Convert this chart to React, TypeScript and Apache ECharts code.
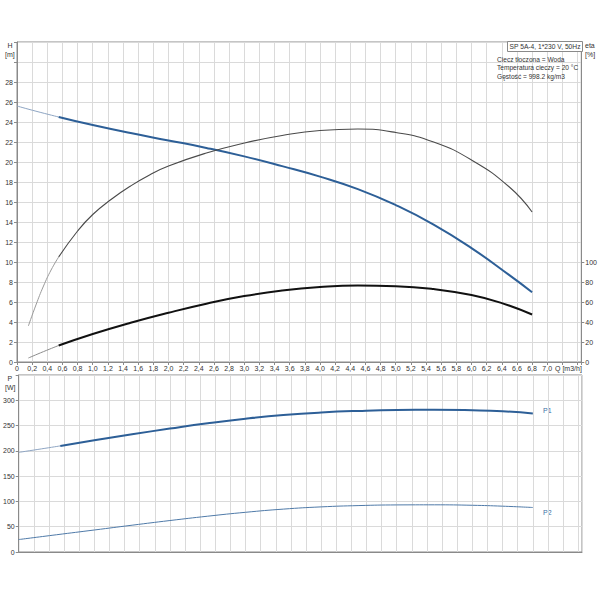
import React, { useEffect, useRef } from "react";
import * as echarts from "echarts";

// Head curve H [m]
const qHThin = [0, 0.25, 0.55];
const hThin = [25.6, 25.08, 24.5];
const qH = [0.55, 1.0, 1.5, 2.0, 2.5, 3.0, 3.5, 4.0, 4.5, 5.0, 5.5, 6.0, 6.5, 6.8];
const hMain = [24.5, 23.69, 22.89, 22.16, 21.41, 20.56, 19.59, 18.54, 17.29, 15.69, 13.74, 11.39, 8.69, 6.98];

// Upper thin curve (on H scale)
const qAThin = [0.15, 0.25, 0.35, 0.45, 0.55];
const aThin = [3.6, 5.7, 7.6, 9.2, 10.5];
const qA = [0.55, 0.8, 1.0, 1.25, 1.5, 1.75, 2.0, 2.5, 3.0, 3.5, 4.0, 4.5, 5.0, 5.5, 6.0, 6.5, 6.8];
const aMain = [10.5, 13.1, 14.75, 16.3, 17.6, 18.7, 19.6, 20.9, 21.9, 22.65, 23.15, 23.3, 22.95, 22.0, 20.2, 17.5, 15.0];

// Efficiency eta [%]
const qEtaThin = [0.15, 0.35, 0.55];
const etaThin = [4.0, 10.4, 16.5];
const qEta = [0.55, 1.0, 1.5, 2.0, 2.5, 3.0, 3.5, 4.0, 4.5, 5.0, 5.5, 6.0, 6.4, 6.8];
const etaMain = [16.5, 28.0, 39.25, 49.25, 58.25, 65.9, 71.4, 74.9, 76.4, 75.8, 72.9, 66.9, 58.9, 47.5];

// Power P1 / P2 [W]
const qP1Thin = [0, 0.3, 0.55];
const p1Thin = [197, 203.9, 209.8];
const qP1 = [0.55, 1.0, 1.5, 2.0, 2.5, 3.0, 3.5, 4.0, 4.5, 5.0, 5.5, 6.0, 6.4, 6.8];
const p1Main = [209.8, 221, 232.8, 244, 254.5, 263.5, 270.7, 275.8, 279, 280.8, 281.2, 280.2, 278.2, 274];
const qP2 = [0, 0.5, 1.0, 1.5, 2.0, 2.5, 3.0, 3.5, 4.0, 4.5, 5.0, 5.5, 6.0, 6.4, 6.8];
const p2 = [24.6, 34.1, 43.5, 53, 62.2, 70.8, 78.5, 84.8, 89.2, 91.8, 93.1, 93.3, 92.4, 90.6, 88];

const infoLines = ["Ciecz tłoczona = Woda", "Temperatura cieczy = 20 °C", "Gęstość = 998.2 kg/m3"];
const titleText = "SP 5A-4, 1*230 V, 50Hz";

const zip = (xs: number[], ys: number[]) => xs.map((x, i) => [x, ys[i]]);
const FONT = "Liberation Sans, Arial, sans-serif";
const GRID = "#dadada";
const AXIS = "#8a8a8a";
const LBL = "#333";

const fmtQ = (v: number) => (v > 7.01 ? "" : v === 0 ? "0" : v.toFixed(1).replace(".", ","));

export default function App() {
  const ref = useRef<HTMLDivElement>(null);
  useEffect(() => {
    if (!ref.current) return;
    const chart = echarts.init(ref.current, undefined, { renderer: "svg" });
    const line = (name: string, data: number[][], color: string, width: number, xi: number, yi: number) => ({
      name,
      type: "line",
      xAxisIndex: xi,
      yAxisIndex: yi,
      data,
      smooth: 0.5,
      symbol: "none",
      silent: true,
      lineStyle: { color, width },
      z: 5,
    });
    const xCommon = {
      type: "value",
      min: 0,
      max: 7.45,
      interval: 0.2,
      splitLine: { show: true, lineStyle: { color: GRID, width: 1 } },
      axisLine: { show: true, lineStyle: { color: AXIS } },
    };
    const txt = (text: string, x: number, y: number, extra: any = {}) => ({
      type: "text",
      x,
      y,
      silent: true,
      style: { text, fontSize: 7, fontFamily: FONT, fill: LBL, textVerticalAlign: "middle", ...extra },
    });
    chart.setOption({
      animation: false,
      backgroundColor: "#fff",
      textStyle: { fontFamily: FONT },
      grid: [
        { left: 17, right: 18, top: 42, height: 320, show: true, borderColor: AXIS, borderWidth: 1, backgroundColor: "transparent" },
        { left: 17, right: 18, top: 375, height: 177, show: true, borderColor: AXIS, borderWidth: 1, backgroundColor: "transparent" },
      ],
      xAxis: [
        {
          ...xCommon,
          gridIndex: 0,
          axisTick: { show: true, length: 3, lineStyle: { color: AXIS } },
          axisLabel: { fontSize: 7, color: LBL, margin: 3, formatter: fmtQ, showMaxLabel: true, showMinLabel: true },
        },
        {
          ...xCommon,
          gridIndex: 1,
          axisTick: { show: false },
          axisLabel: { show: false },
        },
      ],
      yAxis: [
        {
          type: "value",
          gridIndex: 0,
          position: "left",
          min: 0,
          max: 32,
          interval: 2,
          axisLine: { show: true, lineStyle: { color: AXIS } },
          axisTick: { show: true, length: 3, lineStyle: { color: AXIS } },
          axisLabel: { fontSize: 7, color: LBL, margin: 4, formatter: (v: number) => (v > 28.5 ? "" : String(v)) },
          splitLine: { show: true, lineStyle: { color: GRID } },
        },
        {
          type: "value",
          gridIndex: 0,
          position: "right",
          min: 0,
          max: 320,
          interval: 20,
          axisLine: { show: true, lineStyle: { color: AXIS } },
          axisTick: { show: true, length: 3, lineStyle: { color: AXIS }, customValues: [0, 20, 40, 60, 80, 100] },
          axisLabel: { fontSize: 7, color: LBL, margin: 4, formatter: (v: number) => (v > 100.5 ? "" : String(v)) },
          splitLine: { show: false },
        },
        {
          type: "value",
          gridIndex: 1,
          position: "left",
          min: 0,
          max: 350,
          interval: 50,
          axisLine: { show: true, lineStyle: { color: AXIS } },
          axisTick: { show: true, length: 3, lineStyle: { color: AXIS } },
          axisLabel: { fontSize: 7, color: LBL, margin: 4, formatter: (v: number) => (v > 300.5 ? "" : String(v)) },
          splitLine: { show: true, lineStyle: { color: GRID } },
        },
      ],
      series: [
        line("H thin", zip(qHThin, hThin), "#8ea5c3", 1, 0, 0),
        line("H", zip(qH, hMain), "#2d5f97", 2, 0, 0),
        line("A thin", zip(qAThin, aThin), "#9a9a9a", 1, 0, 0),
        line("A", zip(qA, aMain), "#4a4a4a", 1.1, 0, 0),
        line("eta thin", zip(qEtaThin, etaThin), "#8c8c8c", 1, 0, 1),
        line("eta", zip(qEta, etaMain), "#111111", 2, 0, 1),
        line("P1 thin", zip(qP1Thin, p1Thin), "#8ea5c3", 1, 1, 2),
        line("P1", zip(qP1, p1Main), "#2d5f97", 2, 1, 2),
        line("P2", zip(qP2, p2), "#4f7aa8", 1, 1, 2),
      ],
      graphic: [
        txt("H", 7.5, 45.5),
        txt("[m]", 5, 54),
        txt("P", 7.5, 378),
        txt("[W]", 5, 387),
        txt("eta", 585, 45.5),
        txt("[%]", 585, 54),
        txt("Q [m3/h]", 555, 368.5),
        txt("P1", 543, 410, { fill: "#3a6ea5" }),
        txt("P2", 543, 512, { fill: "#3a6ea5" }),
        {
          type: "rect",
          silent: true,
          shape: { x: 507.5, y: 41.5, width: 75, height: 10 },
          style: { fill: "#fff", stroke: AXIS, lineWidth: 1 },
          z: 10,
        },
        { ...txt(titleText, 509.5, 46.6, { fontSize: 6.7 }), z: 11 },
        ...infoLines.map((t, i) => ({ ...txt(t, 497, 59 + i * 8.5, { fontSize: 6.6 }), z: 11 })),
      ],
    });
    return () => chart.dispose();
  }, []);
  return <div ref={ref} style={{ position: "fixed", left: 0, top: 0, width: 600, height: 600 }} />;
}
